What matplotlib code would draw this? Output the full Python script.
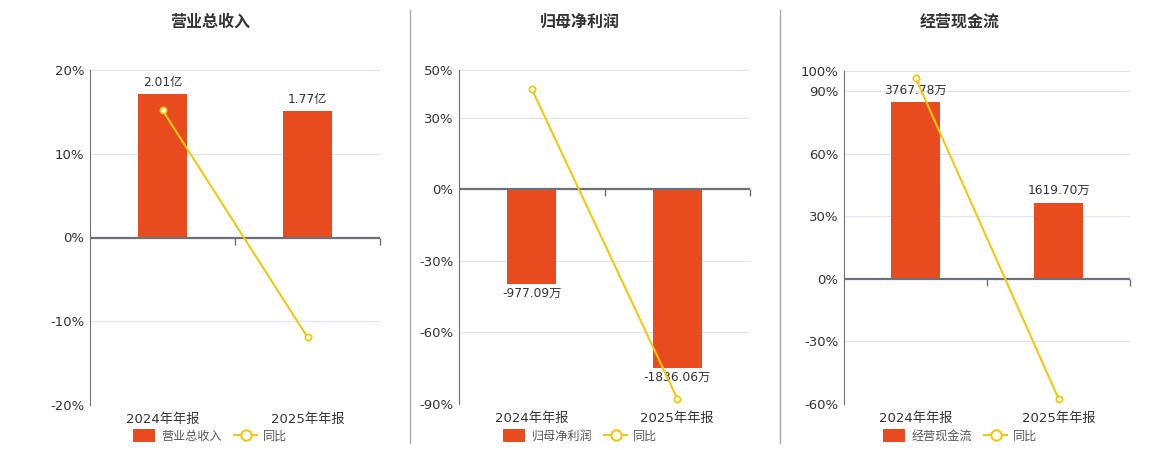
import numpy as np
import matplotlib
matplotlib.use("Agg")
import matplotlib.pyplot as plt
from matplotlib.patches import Patch
from matplotlib.lines import Line2D
from matplotlib.markers import TICKDOWN

plt.rcParams['font.family'] = ['DejaVu Sans', 'Noto Sans CJK SC']

categories = ['2024年年报', '2025年年报']
titles = ['营业总收入', '归母净利润', '经营现金流']

# bar values (亿 / 万) and their labels
bar_values = [[2.01, 1.77], [-977.09, -1836.06], [3767.78, 1619.70]]
bar_labels = [['2.01亿', '1.77亿'], ['-977.09万', '-1836.06万'], ['3767.78万', '1619.70万']]
# 同比 (%)
yoy_values = [[15.2, -11.9], [42.0, -87.7], [96.5, -57.4]]

pct_ticks = [[-20, -10, 0, 10, 20], [-90, -60, -30, 0, 30, 50], [-60, -30, 0, 30, 60, 90, 100]]
pct_lims = [(-20, 20), (-90, 50), (-60, 100)]
bar_scale = [0.1175, 24.5, 44.4]   # bar units per percent on the shared zero line

# axes boxes in pixels: left, right, top, bottom
boxes = [(90, 380, 70, 405), (459, 750, 70, 404), (844, 1130, 70.5, 404)]
centers = [210, 580, 960]

W, H = 1160, 450
bar_color = '#E84B1E'
line_color = '#F2C80F'
axis_color = '#6E7079'
text_color = '#333333'

fig = plt.figure(figsize=(W / 100, H / 100), dpi=100)

for i in range(3):
    l, r, t, b = boxes[i]
    ax = fig.add_axes([l / W, (H - b) / H, (r - l) / W, (b - t) / H])
    lo, hi = pct_lims[i]
    ax.set_ylim(lo, hi)
    ax.set_xlim(-0.5, 1.5)
    ax.set_yticks(pct_ticks[i])
    ax.set_yticklabels([f'{v}%' for v in pct_ticks[i]])
    ax.grid(axis='y', color='#E0E6F1', lw=0.8)
    ax.set_axisbelow(True)
    for s in ['top', 'right', 'bottom']:
        ax.spines[s].set_visible(False)
    ax.spines['left'].set_color(axis_color)
    ax.tick_params(axis='y', length=0, labelsize=9.5, labelcolor=text_color, pad=4)
    ax.set_xticks([0, 1])
    ax.set_xticklabels(categories)
    ax.tick_params(axis='x', length=0, labelsize=9.5, labelcolor=text_color, pad=6)

    # bars on a scaled twin axis sharing the zero line
    ax2 = ax.twinx()
    k = bar_scale[i]
    ax2.set_ylim(lo * k, hi * k)
    ax2.axis('off')
    x = np.arange(len(categories))
    ax2.bar(x, bar_values[i], width=0.34, color=bar_color, zorder=2)
    for xi, v, lab in zip(x, bar_values[i], bar_labels[i]):
        if v >= 0:
            ax2.annotate(lab, (xi, v), xytext=(0, 4), textcoords='offset points',
                         ha='center', va='bottom', fontsize=8.8, color=text_color)
        else:
            ax2.annotate(lab, (xi, v), xytext=(0, -2), textcoords='offset points',
                         ha='center', va='top', fontsize=8.8, color=text_color)

    # zero axis line with category boundary ticks
    ax2.axhline(0, color=axis_color, lw=1.6, zorder=3)
    ax2.plot([0.5, 1.5], [0, 0], ls='none', marker=TICKDOWN, ms=5, mew=1,
             color=axis_color, zorder=3, clip_on=False)

    # yoy line on top
    ax3 = ax.twinx()
    ax3.set_ylim(lo, hi)
    ax3.axis('off')
    ax3.plot(x, yoy_values[i], color=line_color, lw=1.5, marker='o', ms=4.5,
             mfc='white', mec=line_color, mew=1.3, zorder=4)

    fig.text(centers[i] / W, 1 - 22 / H, titles[i], ha='center', va='center',
             fontsize=11.5, fontweight='bold', color=text_color)

    handles = [Patch(facecolor=bar_color, edgecolor='none', label=titles[i]),
               Line2D([], [], color=line_color, lw=1.5, marker='o', ms=7.5, mfc='white',
                      mec=line_color, mew=1.5, label='同比')]
    fig.legend(handles=handles, loc='center', bbox_to_anchor=(centers[i] / W, 1 - 436 / H),
               ncol=2, frameon=False, fontsize=8.7, handlelength=1.9, handleheight=1.2,
               columnspacing=1.0, handletextpad=0.5, labelcolor='#555555')

for xs in [410, 780]:
    fig.add_artist(Line2D([xs / W, xs / W], [1 - 10 / H, 1 - 443 / H], color='#AAAAAA', lw=1))

fig.savefig('out.png', dpi=100)
